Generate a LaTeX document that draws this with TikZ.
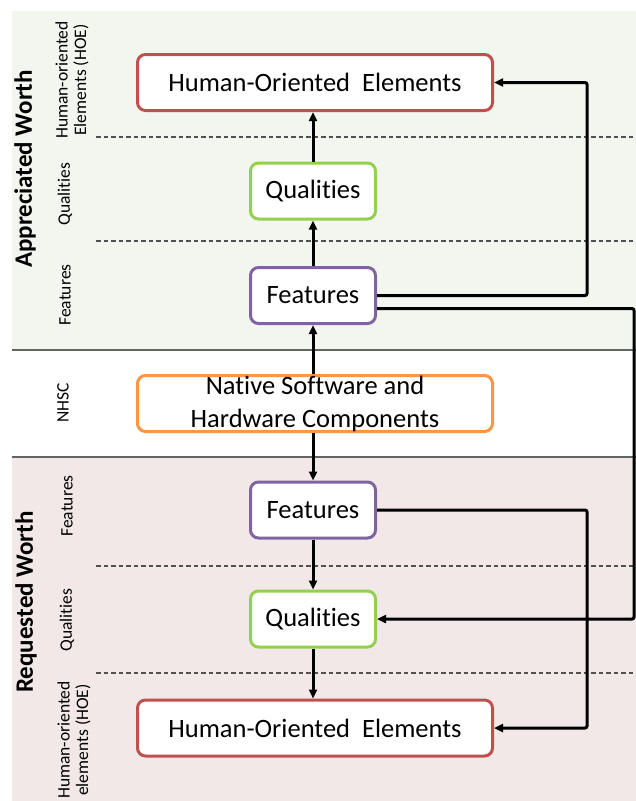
\documentclass[tikz,border=0pt]{standalone}
\usepackage{fontspec}
\setmainfont{Carlito}[Ligatures=NoCommon]
\usetikzlibrary{arrows.meta}
\definecolor{bggreen}{RGB}{243,246,238}
\definecolor{bgpink}{RGB}{242,232,232}
\definecolor{hoered}{RGB}{192,80,77}
\definecolor{qualgreen}{RGB}{146,208,80}
\definecolor{featpurple}{RGB}{128,100,162}
\definecolor{nhscorange}{RGB}{247,150,70}
\definecolor{sepgray}{RGB}{100,100,100}
\definecolor{dashgray}{RGB}{80,80,80}
\begin{document}
\begin{tikzpicture}[x=1pt,y=-1pt,
  box/.style={draw, line width=3pt, rounded corners=8pt, fill=white, inner sep=0pt, font=\fontsize{26.5}{33}\selectfont, align=center},
  bigbox/.style={box, minimum width=355pt, minimum height=56pt},
  smallbox/.style={box, minimum width=125pt, minimum height=56pt},
  conn/.style={line width=3pt, -{Triangle[length=9pt,width=8pt]}},
  rconn/.style={conn, rounded corners=2pt},
  sidelabel/.style={rotate=90, font=\fontsize{17.5}{18.5}\selectfont, align=center, inner sep=0pt},
  titlelabel/.style={rotate=90, font=\fontsize{25}{28}\bfseries\selectfont, inner sep=0pt},
  sepline/.style={draw=sepgray, line width=1.5pt},
  dashline/.style={draw=dashgray, line width=1.1pt, dash pattern=on 4.5pt off 3pt}]
\useasboundingbox (0,0) rectangle (636,801);
\fill[white] (0,0) rectangle (636,801);
\fill[bggreen] (12,11) rectangle (636,350);
\fill[bgpink] (12,457) rectangle (636,801);
\draw[sepline] (12,350) -- (636,350);
\draw[sepline] (12,457) -- (636,457);
\draw[dashline] (96,137) -- (636,137);
\draw[dashline] (96,241) -- (636,241);
\draw[dashline] (96,566) -- (636,566);
\draw[dashline] (96,673) -- (636,673);

\node[bigbox, draw=hoered] (hoeA) at (315,82.5) {Human-Oriented\ \ Elements};
\node[smallbox, draw=qualgreen] (qualA) at (313,191) {Qualities};
\node[smallbox, draw=featpurple] (featA) at (313,295.5) {Features};
\node[bigbox, draw=nhscorange] (nhsc) at (315,403.5) {Native Software and\\Hardware Components};
\node[smallbox, draw=featpurple] (featB) at (313,510) {Features};
\node[smallbox, draw=qualgreen] (qualB) at (313,619) {Qualities};
\node[bigbox, draw=hoered] (hoeB) at (315,728) {Human-Oriented\ \ Elements};

\draw[conn] (featA.north) -- (qualA.south);
\draw[conn] (qualA.north) -- (qualA.north |- hoeA.south);
\draw[conn] (featA.south |- nhsc.north) -- (featA.south);
\draw[conn] (featB.north |- nhsc.south) -- (featB.north);
\draw[conn] (featB.south) -- (qualB.north);
\draw[conn] (qualB.south) -- (qualB.south |- hoeB.north);

\coordinate (cx1) at (587,0);
\coordinate (cx2) at (634,0);
\draw[rconn] (featA.east) -- (featA.east -| cx1) -- (hoeA.east -| cx1) -- (hoeA.east);
\draw[rconn] ([yshift=-13pt]featA.east) -- ([yshift=-13pt]featA.east -| cx2) -- (qualB.east -| cx2) -- (qualB.east);
\draw[rconn] (featB.east) -- (featB.east -| cx1) -- (hoeB.east -| cx1) -- (hoeB.east);

\node[titlelabel] (tA) at (25,169) {Appreciated Worth};
\node[titlelabel] (tR) at (26,602) {Requested Worth};
\node[sidelabel] (lhA) at (72,80) {Human-oriented\\Elements (HOE)};
\node[sidelabel] (lqA) at (65,194) {Qualities};
\node[sidelabel] (lfA) at (65,295) {Features};
\node[sidelabel] (ln) at (63,403) {NHSC};
\node[sidelabel] (lfB) at (67,506) {Features};
\node[sidelabel] (lqB) at (67,620) {Qualities};
\node[sidelabel] (lhB) at (74,740) {Human-oriented\\elements (HOE)};
\end{tikzpicture}
\end{document}
